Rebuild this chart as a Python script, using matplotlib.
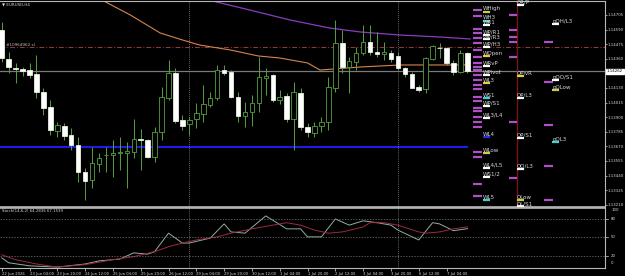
import matplotlib
matplotlib.use('Agg')
import matplotlib.pyplot as plt
from matplotlib.transforms import blended_transform_factory

# EURUSD H4 candles (bar 0 = 22 Jun 12:00)
opens = [1.14587, 1.14358, 1.14291, 1.14279, 1.14271, 1.14240, 1.14098, 1.13980, 1.13791, 1.13830,
         1.13759, 1.13680, 1.13468, 1.13405, 1.13531, 1.13598, 1.13602, 1.13617, 1.13617, 1.13625,
         1.13728, 1.13720, 1.13586, 1.13783, 1.14051, 1.14248, 1.13877, 1.13846, 1.13885, 1.13925,
         1.13996, 1.14051, 1.14271, 1.14256, 1.14059, 1.13909, 1.13941, 1.14011, 1.14208, 1.14232,
         1.14035, 1.14067, 1.13885, 1.14090, 1.13822, 1.13775, 1.13830, 1.13862, 1.14130, 1.14484,
         1.14295, 1.14334, 1.14405, 1.14492, 1.14413, 1.14398, 1.14405, 1.14382, 1.14287, 1.14240,
         1.14137, 1.14122, 1.14358, 1.14445, 1.14445, 1.14327, 1.14256, 1.14405]
closes = [1.14366, 1.14295, 1.14283, 1.14264, 1.14232, 1.14098, 1.13972, 1.13799, 1.13838, 1.13751,
          1.13680, 1.13468, 1.13397, 1.13539, 1.13578, 1.13602, 1.13617, 1.13622, 1.13633, 1.13728,
          1.13720, 1.13586, 1.13783, 1.14059, 1.14248, 1.13870, 1.13830, 1.13877, 1.13933, 1.14003,
          1.14051, 1.14271, 1.14248, 1.14059, 1.13909, 1.13941, 1.14011, 1.14216, 1.14224, 1.14035,
          1.14059, 1.13885, 1.14098, 1.13822, 1.13783, 1.13830, 1.13862, 1.14137, 1.14484, 1.14295,
          1.14342, 1.14405, 1.14492, 1.14413, 1.14398, 1.14413, 1.14358, 1.14287, 1.14240, 1.14130,
          1.14114, 1.14366, 1.14461, 1.14441, 1.14327, 1.14256, 1.14405, 1.14262]
highs = [1.14650, 1.14413, 1.14327, 1.14295, 1.14327, 1.14390, 1.14130, 1.14035, 1.13862, 1.13854,
         1.13814, 1.13743, 1.13499, 1.13665, 1.13618, 1.13665, 1.13720, 1.13743, 1.13704, 1.13885,
         1.13807, 1.13725, 1.13822, 1.14137, 1.14350, 1.14287, 1.13917, 1.13901, 1.14011, 1.14153,
         1.14098, 1.14311, 1.14311, 1.14271, 1.14098, 1.14019, 1.14074, 1.14374, 1.14287, 1.14240,
         1.14114, 1.14090, 1.14177, 1.14130, 1.13854, 1.13862, 1.13901, 1.14216, 1.14665, 1.14587,
         1.14374, 1.14453, 1.14626, 1.14626, 1.14571, 1.14492, 1.14429, 1.14413, 1.14295, 1.14256,
         1.14153, 1.14374, 1.14468, 1.14484, 1.14453, 1.14350, 1.14429, 1.14413]
lows = [1.14334, 1.14248, 1.14169, 1.14224, 1.14208, 1.14051, 1.13917, 1.13759, 1.13743, 1.13720,
        1.13641, 1.13389, 1.13247, 1.13342, 1.13468, 1.13468, 1.13428, 1.13483, 1.13342, 1.13578,
        1.13483, 1.13578, 1.13547, 1.13720, 1.14035, 1.13854, 1.13799, 1.13759, 1.13814, 1.13862,
        1.13980, 1.14035, 1.14232, 1.14051, 1.13862, 1.13822, 1.13830, 1.13941, 1.14074, 1.14019,
        1.14003, 1.13862, 1.13641, 1.13799, 1.13743, 1.13743, 1.13783, 1.13799, 1.14098, 1.14248,
        1.14090, 1.14271, 1.14390, 1.14390, 1.14374, 1.14350, 1.14334, 1.14271, 1.14216, 1.14130,
        1.14098, 1.14090, 1.14350, 1.14366, 1.14311, 1.14232, 1.14248, 1.14248]

# moving averages (vertices)
ma_orange_x = [13.4, 14.4, 18.5, 22.8, 26, 28.5, 32.9, 36.9, 40, 44, 45.8, 47.7, 51.6, 57.3, 62, 67]
ma_orange = [1.14847, 1.14823, 1.14705, 1.14563, 1.14508, 1.14468, 1.14429, 1.14382, 1.14366,
             1.14327, 1.14271, 1.14279, 1.14295, 1.14311, 1.14311, 1.14311]
ma_purple_x = [28.5, 35.7, 41.5, 47.2, 51.6, 57.3, 63.1, 67.4]
ma_purple = [1.14839, 1.14744, 1.14665, 1.14602, 1.14571, 1.14547, 1.14531, 1.14516]

bid = 1.14262
order_sl = 1.14449
blue_level = 1.13665
separators = [27, 57]

price_ticks = [1.13210, 1.13325, 1.13440, 1.13555, 1.13670, 1.13785, 1.13900, 1.14015,
               1.14130, 1.14360, 1.14475, 1.14590, 1.14705]

date_labels = ['22 Jun 2026', '23 Jun 04:00', '23 Jun 20:00', '24 Jun 12:00', '25 Jun 04:00',
               '25 Jun 20:00', '26 Jun 12:00', '29 Jun 04:00', '29 Jun 20:00', '30 Jun 12:00',
               '1 Jul 04:00', '1 Jul 20:00', '2 Jul 12:00', '3 Jul 04:00', '3 Jul 20:00',
               '6 Jul 12:00', '7 Jul 04:00']

# pivot labels, three columns
w_labels = ['WHigh', 'WH3', 'WR1', 'WP/R1', 'WP/R3', 'WP/H3', 'WOpen', 'WRvP', 'WPivot', 'WL3',
            'WS1', 'WP/S1', 'WL3/L4', 'WL4', 'WLow', 'WL4/L5', 'WS1/2', 'WL5']
w_levels = [1.14732, 1.14661, 1.14622, 1.14547, 1.14512, 1.14453, 1.14378, 1.14299, 1.14232,
            1.14169, 1.14051, 1.13988, 1.13897, 1.13743, 1.13617, 1.13499, 1.13432, 1.13247]
w_colors = ['#c8d040', '#40d0d0', 'white', 'white', 'white', 'white', '#e0d040', 'white', 'white',
            '#e0d040', '#40d0d0', 'white', 'white', '#2030e0', '#c8d040', 'white', 'white', '#40d0d0']
q_labels = ['QR/P', 'QPivR', 'QP/L3', 'QP/S1', 'QO/L3', 'QLow', 'QL/S1']
q_levels = [1.14784, 1.14224, 1.14051, 1.13736, 1.13491, 1.13247, 1.13196]
q_colors = ['white', '#e0d040', 'white', 'white', 'white', '#c8d040', 'white']
pq_labels = ['pQH/L3', 'pQO/S1', 'pQLow', 'pQL3']
pq_levels = [1.14634, 1.14193, 1.14114, 1.13704]
pq_colors = ['white', 'white', '#c8d040', '#40d0d0']

w_marks = [1.14744, 1.14697, 1.14594, 1.14563, 1.14524, 1.14484, 1.14429, 1.14374, 1.14327,
           1.14295, 1.14271, 1.14232, 1.14193, 1.14153, 1.14122, 1.14059, 1.14027, 1.13972,
           1.13948, 1.13901, 1.13862, 1.13822, 1.13625, 1.13586, 1.13373, 1.13279]
q_marks = [1.14705, 1.14587, 1.14531, 1.14492, 1.14374, 1.13862, 1.13420]
pq_marks = [1.14492, 1.14177, 1.13838, 1.13515, 1.13247]

# stochastic (main and signal)
st_main_x = [0, 1, 4, 8, 12, 14, 17, 19, 21, 22, 24, 26, 27, 30, 32, 33, 35, 38, 41, 43, 44, 46,
             48, 50, 52, 54, 56, 57, 60, 62, 63, 65, 67]
st_main = [17, 9, 4, 2, 7, 12, 15, 25, 23, 27, 57, 41, 41, 49, 72, 59, 57, 85, 64, 64, 51, 51,
           80, 70, 77, 74, 70, 62, 46, 74, 72, 61, 64.28]
st_sig_x = [0, 2, 5, 8, 12, 16, 19, 22, 24, 26, 28, 31, 33, 36, 39, 41, 43, 45, 47, 49, 52, 53,
            55, 57, 60, 61, 63, 65, 67]
st_sig = [22, 14, 7, 2, 6, 14, 19, 27, 35, 41, 46, 51, 57, 64, 70, 74, 70, 62, 57, 59, 67, 74,
          74, 70, 59, 57, 59, 64, 67.15]
st_levels = [80, 50, 20]

GREEN = '#55a040'
FRAME = '#b8b8b8'
TXT = '#d8d8d8'
W, H = 625, 276

fig = plt.figure(figsize=(W / 100, H / 100), dpi=100, facecolor='black')


def box(l, t, r, b):
    return [l / W, 1 - b / H, (r - l) / W, (b - t) / H]


ax = fig.add_axes(box(0, 1, 605, 207), facecolor='black')
ax2 = fig.add_axes(box(0, 208, 605, 268), facecolor='black', sharex=ax)

# candles
idx = list(range(len(opens)))
up = [c >= o for o, c in zip(opens, closes)]
ax.vlines(idx, lows, highs, color=GREEN, lw=0.7, zorder=3)
ax.bar(idx, [max(abs(c - o), 0.00001) for o, c in zip(opens, closes)], 0.65,
       [min(o, c) for o, c in zip(opens, closes)],
       color=['black' if u else 'white' for u in up],
       edgecolor=[GREEN if u else '#e8f0e0' for u in up], lw=0.6, zorder=4)

ax.plot(ma_orange_x, ma_orange, color='#d8844a', lw=0.8, zorder=2)
ax.plot(ma_purple_x, ma_purple, color='#8a3cc0', lw=0.9, zorder=2)

ax.axhline(bid, color='#7a7a7a', lw=0.9, zorder=1)
ax.axhline(order_sl, color='#9a3a3a', lw=0.7, ls=(0, (5, 2, 1, 2)), zorder=1)
ax.hlines(blue_level, -1, 67.1, color='#1c1ce8', lw=1.5, zorder=2)
ax.text(0.6, order_sl + 0.00003, '#10964962 sl', color='#c0c0c0', fontsize=3, va='bottom')

for s in separators:
    ax.axvline(s, color='#8a8a8a', lw=0.6, ls=(0, (1, 1.5)))
    ax2.axvline(s, color='#8a8a8a', lw=0.6, ls=(0, (1, 1.5)))

# pivot columns
ax.vlines(74.15, 1.13192, 1.14815, color='#7a1414', lw=1.0, zorder=1)
ax.hlines(w_marks, 67.8, 69.1, color='#b050c8', lw=1.6)
ax.hlines(q_marks, 73.0, 74.1, color='#b050c8', lw=1.6)
ax.hlines(pq_marks, 78.0, 79.3, color='#b050c8', lw=1.6)
for labels, levels, colors, x0 in [(w_labels, w_levels, w_colors, 69.25),
                                   (q_labels, q_levels, q_colors, 74.15),
                                   (pq_labels, pq_levels, pq_colors, 79.2)]:
    ax.hlines(levels, x0, x0 + 1.0, color=colors, lw=1.6, zorder=3)
    for t, lv in zip(labels, levels):
        ax.text(x0, lv + 0.00001, t, color=TXT, fontsize=4, ha='left', va='bottom', zorder=4)

ax.set_xlim(-0.245, 86.8)
ax.set_ylim(1.13192, 1.14815)
ax.yaxis.tick_right()
ax.set_yticks(price_ticks)
ax.set_yticklabels([f'{p:.5f}' for p in price_ticks])
ax.tick_params(axis='y', colors=TXT, labelsize=2.75, length=1.5, width=0.5, pad=0.6)
ax.tick_params(axis='x', bottom=False, labelbottom=False)
for name, sp in ax.spines.items():
    sp.set_color(FRAME)
    sp.set_linewidth(0.8)
ax.spines['left'].set_visible(False)
ax.spines['bottom'].set_linewidth(1.2)

tr = blended_transform_factory(ax.transAxes, ax.transData)
ax.text(1.003, bid, f'{bid:.5f}', transform=tr, fontsize=2.75, color='black', ha='left', va='center',
        bbox=dict(boxstyle='square,pad=0.15', fc='white', ec='white'), clip_on=False, zorder=10)

# stochastic panel
ax2.plot(st_main_x, st_main, color='#8fb0a2', lw=0.7)
ax2.plot(st_sig_x, st_sig, color='#a02a40', lw=0.7)
for lv in st_levels:
    ax2.axhline(lv, color='#7a7a7a', lw=0.5, ls=(0, (2, 2)))
ax2.set_ylim(0.5, 97.8)
ax2.set_yticks([])
tr2 = blended_transform_factory(ax2.transAxes, ax2.transData)
for t, v in [('100', 94.6), ('80', 80), ('50', 50), ('20', 20), ('0', 8.6)]:
    ax2.text(1.010, v, t, transform=tr2, fontsize=2.8, color=TXT, ha='left', va='center', clip_on=False)
    if t in ('80', '50', '20'):
        ax2.plot([1.0, 1.005], [v, v], transform=tr2, color=TXT, lw=0.5, clip_on=False)
ax2.text(0.003, 93, 'Stoch(14,6,2) 64.2836 67.1539', transform=tr2, fontsize=2.8, color=TXT,
         ha='left', va='center')

ax2.set_xticks(list(range(0, 4 * len(date_labels), 4)))
ax2.set_xticklabels(date_labels)
ax2.tick_params(axis='x', colors=TXT, labelsize=2.7, length=2, width=0.5, pad=0.8)
for lab in ax2.get_xticklabels():
    lab.set_ha('left')
for name, sp in ax2.spines.items():
    sp.set_color(FRAME)
    sp.set_linewidth(0.8)
ax2.spines['left'].set_visible(False)
ax2.spines['top'].set_linewidth(1.2)

fig.text(2 / W, 1 - 4.5 / H, '\u25bc EURUSD,H4', color=TXT, fontsize=2.9, ha='left', va='center')

fig.savefig('out.png', dpi=100, facecolor='black')
